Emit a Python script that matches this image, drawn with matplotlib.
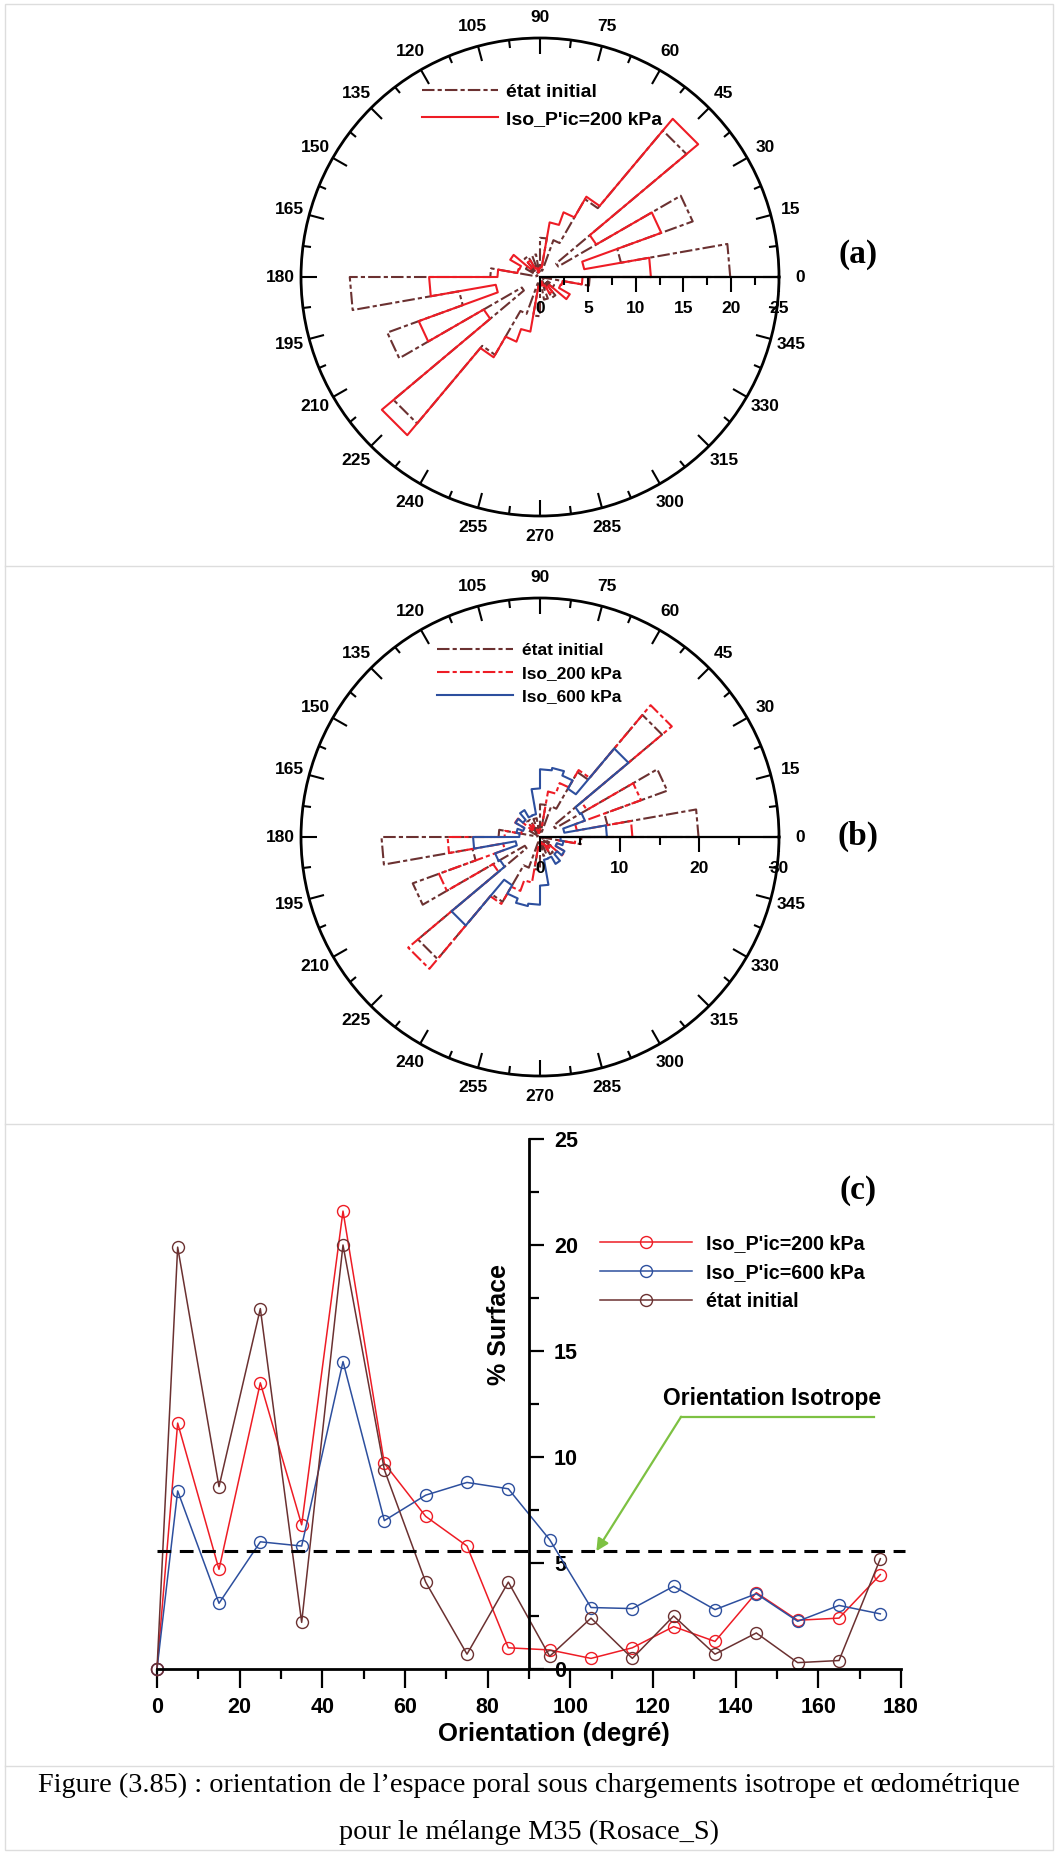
import matplotlib.pyplot as plt
import numpy as np
from matplotlib.patches import Rectangle
from matplotlib.lines import Line2D

plt.rcParams['font.family'] = ['Liberation Sans', 'DejaVu Sans']
plt.rcParams['font.weight'] = 'bold'

# classes d'orientation (degre) et % surface
orientation = [0, 5, 15, 25, 35, 45, 55, 65, 75, 85, 95, 105, 115, 125, 135, 145, 155, 165, 175]
etat_initial = [0, 19.9, 8.6, 17.0, 2.2, 20.0, 9.4, 4.1, 0.7, 4.1, 0.6, 2.4, 0.5, 2.5, 0.7, 1.7, 0.3, 0.4, 5.2]
iso_200 = [0, 11.6, 4.7, 13.5, 6.8, 21.6, 9.7, 7.2, 5.8, 1.0, 0.9, 0.5, 1.0, 2.0, 1.3, 3.6, 2.3, 2.4, 4.45]
iso_600 = [0, 8.4, 3.1, 6.0, 5.8, 14.5, 7.0, 8.2, 8.8, 8.5, 6.1, 2.9, 2.85, 3.9, 2.8, 3.55, 2.25, 3.0, 2.6]
isotrope = 5.56

angle_labels = [str(a) for a in range(0, 360, 15)]

BROWN = '#6b3131'
RED = '#ee1c25'
BLUE = '#2d4f9e'
GREEN = '#7dc142'
DASHDOT = (0, (6, 1.5, 2, 1.5))

W, H = 1058, 1854
fig = plt.figure(figsize=(W / 100, H / 100), dpi=100)


def stairs(vals):
    # bins de 10 degres, 0-180 repete sur 180-360
    v = np.concatenate([vals, vals])
    edges = np.deg2rad(np.arange(0, 370, 10))
    theta = np.append(np.repeat(edges, 2)[1:-1], edges[-1])
    r = np.append(np.repeat(v, 2), v[0])
    return theta, r


def rose(top_px, rmax, major, minor, series):
    rect = [301 / W, 1 - (top_px + 478) / H, 478 / W, 478 / H]
    ax = fig.add_axes(rect, projection='polar')
    for vals, color, ls, label in series:
        th, r = stairs(np.array(vals[1:]))
        ax.plot(th, r, color=color, ls=ls, lw=1.5, label=label)
    ax.set_ylim(0, rmax)
    ax.set_yticks([])
    ax.set_xticks(np.deg2rad(np.arange(0, 360, 15)), labels=angle_labels)
    ax.set_xticks(np.deg2rad(np.arange(7.5, 360, 15)), minor=True)
    ax.tick_params(axis='x', which='both', top=True, bottom=False, direction='in',
                   width=1.5, color='black', pad=8, labelsize=12.5)
    ax.tick_params(axis='x', which='major', length=11.3)
    ax.tick_params(axis='x', which='minor', length=5.5)
    ax.spines['polar'].set_linewidth(2)
    ax.grid(False)

    # axe radial
    ax2 = fig.add_axes(rect)
    ax2.set_xlim(-rmax, rmax)
    ax2.set_ylim(-rmax, rmax)
    ax2.patch.set_visible(False)
    for s in ['top', 'right', 'left']:
        ax2.spines[s].set_visible(False)
    ax2.spines['bottom'].set_position(('data', 0))
    ax2.spines['bottom'].set_bounds(0, rmax)
    ax2.spines['bottom'].set_linewidth(1.6)
    ax2.set_xticks(np.arange(0, rmax + 1, major))
    ax2.set_xticks(np.arange(minor, rmax, major), minor=True)
    ax2.set_yticks([])
    ax2.tick_params(axis='x', which='both', direction='out', width=1.5, labelsize=12.5, pad=6.5)
    ax2.tick_params(axis='x', which='major', length=11)
    ax2.tick_params(axis='x', which='minor', length=5.8)
    return ax


# (a)
ax_a = rose(38, 25, 5, 2.5, [(etat_initial, BROWN, DASHDOT, 'état initial'),
                             (iso_200, RED, '-', "Iso_P'ic=200 kPa")])
ax_a.legend(loc='upper left', bbox_to_anchor=(422 / W, 1 - 83 / H), bbox_transform=fig.transFigure,
            frameon=False, fontsize=14, handlelength=3.9, handletextpad=0.4, labelspacing=0.5,
            borderpad=0, borderaxespad=0)

# (b)
ax_b = rose(598, 30, 10, 5, [(etat_initial, BROWN, DASHDOT, 'état initial'),
                             (iso_200, RED, DASHDOT, 'Iso_200 kPa'),
                             (iso_600, BLUE, '-', 'Iso_600 kPa')])
ax_b.legend(loc='upper left', bbox_to_anchor=(437 / W, 1 - 643 / H), bbox_transform=fig.transFigure,
            frameon=False, fontsize=12.5, handlelength=4.4, handletextpad=0.5, labelspacing=0.45,
            borderpad=0, borderaxespad=0)

# (c)
ax = fig.add_axes([157 / W, 1 - 1669 / H, 744 / W, 530 / H])
ax.plot(orientation, iso_200, color=RED, lw=1.1, marker='o', ms=8.6, mfc='none', mew=1.0,
        label="Iso_P'ic=200 kPa", clip_on=False)
ax.plot(orientation, iso_600, color=BLUE, lw=1.1, marker='o', ms=8.6, mfc='none', mew=1.0,
        label="Iso_P'ic=600 kPa", clip_on=False)
ax.plot(orientation, etat_initial, color=BROWN, lw=1.1, marker='o', ms=8.6, mfc='none', mew=1.0,
        label='état initial', clip_on=False)
ax.axhline(isotrope, xmin=0, xmax=181 / 180, color='black', lw=2.2, ls=(0, (4.5, 2.8)), clip_on=False)

ax.set_xlim(0, 180)
ax.set_ylim(0, 25)
ax.spines['top'].set_visible(False)
ax.spines['left'].set_visible(False)
ax.spines['right'].set_position(('data', 90))
ax.spines['right'].set_linewidth(2)
ax.spines['bottom'].set_linewidth(2)
ax.yaxis.set_ticks_position('right')
ax.set_xticks(np.arange(0, 181, 20))
ax.set_xticks(np.arange(10, 180, 20), minor=True)
ax.set_yticks(np.arange(0, 26, 5))
ax.set_yticks(np.arange(2.5, 25, 5), minor=True)
ax.tick_params(axis='both', which='both', direction='out', width=1.6, labelsize=15.5)
ax.tick_params(axis='x', which='major', length=13.4, pad=7)
ax.tick_params(axis='x', which='minor', length=7.2)
ax.tick_params(axis='y', which='major', length=11, pad=7)
ax.tick_params(axis='y', which='minor', length=7)

ax.text(96, -3.07, 'Orientation (degré)', ha='center', va='center', fontsize=18.5, clip_on=False)
ax.text(82.8, 16.23, '% Surface', ha='center', va='center', rotation=90, fontsize=18)
ax.text(148.9, 12.76, 'Orientation Isotrope', ha='center', va='center', fontsize=16.5)
ax.plot([126.8, 173.5], [11.9, 11.9], color=GREEN, lw=1.6)
ax.annotate('', xy=(106.3, isotrope), xytext=(126.8, 11.9),
            arrowprops=dict(arrowstyle='-|>', color=GREEN, lw=1.6, mutation_scale=18,
                            shrinkA=0, shrinkB=0))
ax.legend(loc='upper left', bbox_to_anchor=(600 / W, 1 - 1234 / H), bbox_transform=fig.transFigure,
          frameon=False, fontsize=14.2, handlelength=4.65, handletextpad=0.7, labelspacing=0.5,
          borderpad=0, borderaxespad=0, numpoints=1)

# etiquettes des panneaux
for lbl, ypx in [('(a)', 255), ('(b)', 836), ('(c)', 1190)]:
    fig.text(858 / W, 1 - ypx / H, lbl, ha='center', va='center', fontsize=24,
             family='Liberation Serif', weight='bold')

# legende de la figure
fig.text(0.5, 1 - 1785 / H,
         'Figure (3.85) : orientation de l’espace poral sous chargements isotrope et œdométrique',
         ha='center', va='center', fontsize=20.3, family='Liberation Serif', weight='normal')
fig.text(0.5, 1 - 1832 / H, 'pour le mélange M35 (Rosace_S)',
         ha='center', va='center', fontsize=20.3, family='Liberation Serif', weight='normal')

# cadres
fig.add_artist(Rectangle((5 / W, 4 / H), 1048 / W, 1846 / H, transform=fig.transFigure,
                         fill=False, edgecolor='#dddddd', lw=1))
for ypx in [566, 1124, 1766]:
    fig.add_artist(Line2D([5 / W, 1053 / W], [1 - ypx / H, 1 - ypx / H], transform=fig.transFigure,
                          color='#dddddd', lw=1))

fig.savefig('out.png', dpi=100)
